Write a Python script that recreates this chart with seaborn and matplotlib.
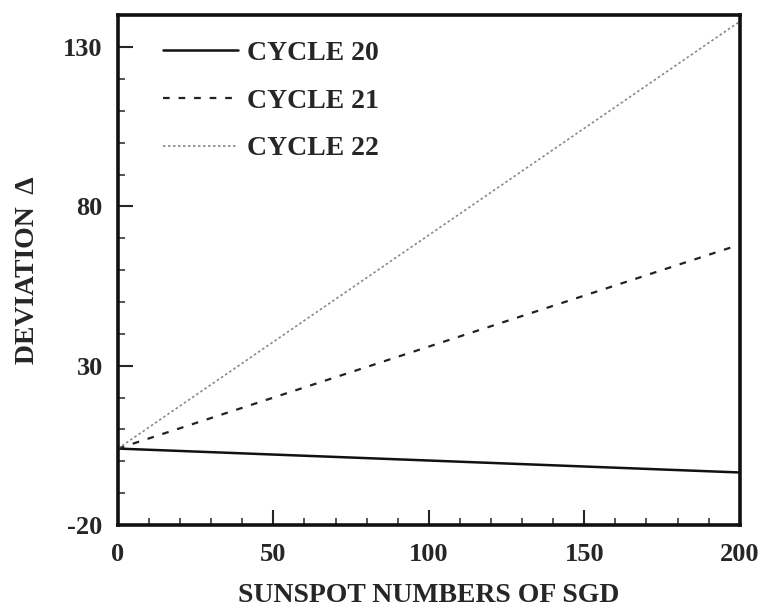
import matplotlib
matplotlib.use("Agg")
import matplotlib.pyplot as plt
import seaborn as sns
import pandas as pd
from matplotlib.ticker import MultipleLocator

# Data (straight-line fits)
sunspot = [0, 200]
cycle20 = [4, -3.5]
cycle21 = [4, 68]
cycle22 = [4, 138]
labels = ["CYCLE 20", "CYCLE 21", "CYCLE 22"]

df = pd.DataFrame({
    "x": sunspot * 3,
    "y": cycle20 + cycle21 + cycle22,
    "cycle": [labels[0]] * 2 + [labels[1]] * 2 + [labels[2]] * 2,
})

sns.set_style("ticks")
plt.rcParams["font.family"] = ["Liberation Serif", "DejaVu Serif"]
plt.rcParams["font.weight"] = "bold"
plt.rcParams["axes.unicode_minus"] = False

fig = plt.figure(figsize=(7.61, 6.07), dpi=100)
ax = fig.add_axes([0.155, 0.135, 0.817, 0.840])

styles = {labels[0]: ("-", "#111111", 1.8),
          labels[1]: ((0, (3, 4)), "#222222", 1.6),
          labels[2]: ((0, (1.5, 1.5)), "#888888", 1.2)}
for lab in labels:
    sub = df[df["cycle"] == lab]
    ls, col, lw = styles[lab]
    sns.lineplot(data=sub, x="x", y="y", ax=ax, color=col, linestyle=ls,
                 linewidth=lw, label=lab)

ax.set_xlim(0, 200)
ax.set_ylim(-20, 140)
ax.set_xticks([0, 50, 100, 150, 200])
ax.set_yticks([-20, 30, 80, 130])
ax.xaxis.set_minor_locator(MultipleLocator(10))
ax.yaxis.set_minor_locator(MultipleLocator(10))
ax.tick_params(which="major", direction="in", length=11, width=1.5,
               labelsize=19, pad=11)
ax.tick_params(which="minor", direction="in", length=5, width=1.1)
ax.tick_params(axis="x", which="major", pad=13)
for lab in ax.get_xticklabels() + ax.get_yticklabels():
    lab.set_fontweight("bold")
for sp in ax.spines.values():
    sp.set_linewidth(2.6)
    sp.set_color("#111111")

ax.set_xlabel("SUNSPOT NUMBERS OF SGD", fontsize=20, fontweight="bold", labelpad=12)
ax.set_ylabel("DEVIATION  Δ", fontsize=20, fontweight="bold", labelpad=17)

leg = ax.legend(loc="upper left", bbox_to_anchor=(0.072, 0.95), frameon=False,
                borderpad=0, borderaxespad=0,
                handlelength=2.7, handletextpad=0.35, labelspacing=0.8,
                prop={"size": 20, "weight": "bold"})

fig.savefig("out.png", dpi=100)
